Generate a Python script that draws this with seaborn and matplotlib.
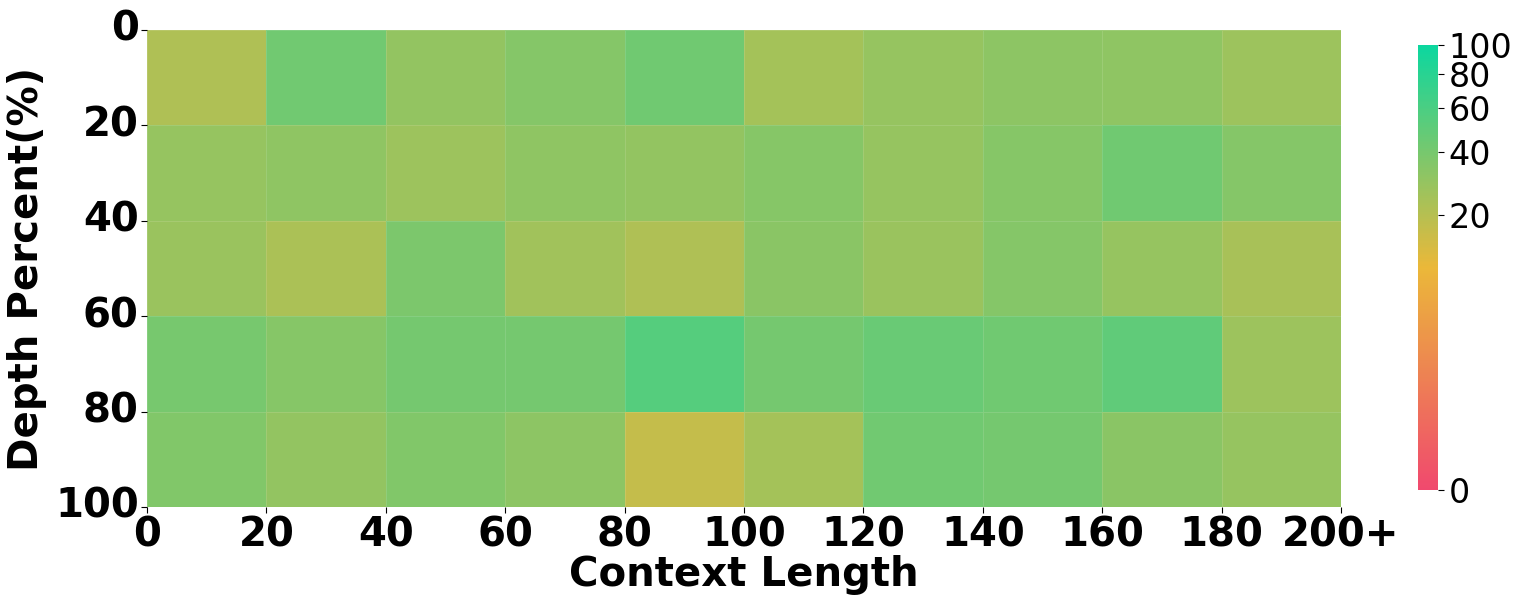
import numpy as np
import pandas as pd
import matplotlib
matplotlib.use('Agg')
import matplotlib.pyplot as plt
import seaborn as sns
from matplotlib.colors import LinearSegmentedColormap, PowerNorm

# context length bins (x) and depth bins (y)
context_labels = ['0', '20', '40', '60', '80', '100', '120', '140', '160', '180', '200+']
depth_labels = ['0', '20', '40', '60', '80', '100']

# scores per depth row, one value per context bin
row_0_20 = [22, 42, 30, 35, 43, 25, 29, 32, 31, 27]
row_20_40 = [29, 31, 27, 31, 30, 34, 29, 34, 43, 35]
row_40_60 = [28, 23, 38, 26, 22, 33, 28, 35, 29, 24]
row_60_80 = [40, 34, 41, 41, 55, 41, 46, 43, 50, 27]
row_80_100 = [36, 30, 36, 32, 17, 25, 42, 41, 33, 29]

cbar_ticks = [0, 20, 40, 60, 80, 100]


def run_plot():
    scores = pd.DataFrame([row_0_20, row_20_40, row_40_60, row_60_80, row_80_100])

    cmap = LinearSegmentedColormap.from_list('custom_cmap', ['#F0496E', '#EBB839', '#0CD79F'])
    norm = PowerNorm(gamma=0.3, vmin=0, vmax=100)

    fig = plt.figure(figsize=(15.22, 6.1), dpi=100)
    ax = fig.add_axes([0.0966, 0.1689, 0.7845, 0.782])
    cax = fig.add_axes([0.9317, 0.1967, 0.0131, 0.7295])

    sns.heatmap(scores, ax=ax, cbar_ax=cax, cmap=cmap, norm=norm,
                linewidths=0.5, linecolor=(1, 1, 1, 0.12),
                cbar_kws={'ticks': cbar_ticks})

    ax.set_xticks(np.arange(len(context_labels)))
    ax.set_xticklabels(context_labels, rotation=0, fontsize=29, fontweight='bold')
    ax.set_yticks(np.arange(len(depth_labels)))
    ax.set_yticklabels(depth_labels, rotation=0, fontsize=29, fontweight='bold')
    ax.tick_params(axis='both', length=4, pad=2)
    ax.set_xlabel('Context Length', fontsize=29, fontweight='bold', labelpad=0)
    ax.set_ylabel('Depth Percent(%)', fontsize=29, fontweight='bold', labelpad=6)

    cax.tick_params(labelsize=24, length=4)
    cax.set_yticklabels([str(t) for t in cbar_ticks])

    fig.savefig('out.png', dpi=100)
    plt.close(fig)


if __name__ == '__main__':
    run_plot()
